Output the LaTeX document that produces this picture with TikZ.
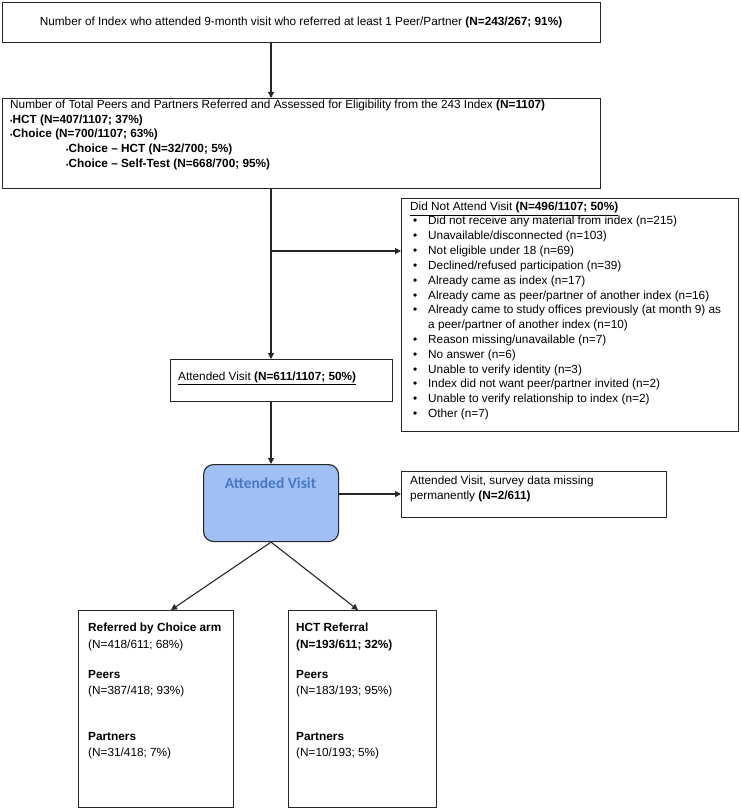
\documentclass[tikz,border=0pt]{standalone}
\usepackage{fontspec}
\setmainfont{Liberation Sans}
\newfontfamily\carl{Carlito}
\usetikzlibrary{arrows.meta}
\definecolor{rvfill}{HTML}{A0C0F4}
\definecolor{rvtext}{HTML}{4A78C2}
\definecolor{edge}{HTML}{262626}
\newcommand{\smb}{{\fontsize{7}{7}\selectfont\textbullet}}
\begin{document}
\begin{tikzpicture}[x=1pt,y=-1pt,
  box/.style={draw=edge, line width=1.1pt, rectangle, inner sep=0pt, anchor=north west},
  txt/.style={anchor=base west, inner sep=0pt, font=\fontsize{11.8}{14}\selectfont},
  arr/.style={draw=edge, line width=1.1pt, -{Triangle[length=6pt,width=6pt]}}]
\useasboundingbox (0,0) rectangle (740,810);
% boxes
\node[box, minimum width=598pt, minimum height=40pt] (top) at (2,2) {};
\node[box, minimum width=598pt, minimum height=90pt] (sec) at (2,98) {};
\node[box, minimum width=337pt, minimum height=233pt] (dna) at (401,198) {};
\node[box, minimum width=222pt, minimum height=42pt] (att) at (170,359) {};
\node[box, fill=rvfill, rounded corners=10pt, minimum width=135pt, minimum height=77pt] (rv) at (203,464) {};
\node[box, minimum width=265pt, minimum height=46pt] (miss) at (401,471) {};
\node[box, minimum width=155pt, minimum height=197pt] (lb) at (78,610) {};
\node[box, minimum width=148pt, minimum height=197pt] (rb) at (288,610) {};
% texts
\node[txt, anchor=base] (t1) at (301,26) {Number of Index who attended 9-month visit who referred at least 1 Peer/Partner \textbf{(N=243/267; 91\%)}};
\node[txt] (s1) at (10,109) {Number of Total Peers and Partners Referred and Assessed for Eligibility from the 243 Index \textbf{(N=1107)}};
\node[txt] (s2) at (10,124) {\smb\textbf{HCT (N=407/1107; 37\%)}};
\node[txt] (s3) at (10,138) {\smb\textbf{Choice (N=700/1107; 63\%)}};
\node[txt] (s4) at (66,153) {\smb\textbf{Choice – HCT (N=32/700; 5\%)}};
\node[txt] (s5) at (66,168) {\smb\textbf{Choice – Self-Test (N=668/700; 95\%)}};
\node[txt] (d0) at (410,211) {\underline{Did Not Attend Visit \textbf{(N=496/1107; 50\%)}}};
\foreach \k/\s/\b in {
  0/{Did not receive any material from index (n=215)}/1,
  1/{Unavailable/disconnected (n=103)}/1,
  2/{Not eligible under 18 (n=69)}/1,
  3/{Declined/refused participation (n=39)}/1,
  4/{Already came as index (n=17)}/1,
  5/{Already came as peer/partner of another index (n=16)}/1,
  6/{Already came to study offices previously (at month 9) as}/1,
  7/{a peer/partner of another index (n=10)}/0,
  8/{Reason missing/unavailable (n=7)}/1,
  9/{No answer (n=6)}/1,
  10/{Unable to verify identity (n=3)}/1,
  11/{Index did not want peer/partner invited (n=2)}/1,
  12/{Unable to verify relationship to index (n=2)}/1,
  13/{Other (n=7)}/1}{
  \node[txt] (di\k) at (428,225+14.8*\k) {\s};
  \ifnum\b=1 \node[txt] (db\k) at (413,225+14.8*\k) {\textbullet}; \fi
}
\node[txt] (a1) at (178,380) {\underline{Attended Visit \textbf{(N=611/1107; 50\%)}}};
\node[inner sep=0pt, text=rvtext, font=\carl\bfseries\fontsize{15.5}{16}\selectfont] (rvt) at (270.5,483) {Attended Visit};
\node[txt] (m1) at (410,484) {Attended Visit, survey data missing};
\node[txt] (m2) at (410,499) {permanently \textbf{(N=2/611)}};
\node[txt] (l1) at (88,631) {\textbf{Referred by Choice arm}};
\node[txt] (l2) at (88,648) {(N=418/611; 68\%)};
\node[txt] (l3) at (88,678) {\textbf{Peers}};
\node[txt] (l4) at (88,694) {(N=387/418; 93\%)};
\node[txt] (l5) at (88,740) {\textbf{Partners}};
\node[txt] (l6) at (88,756) {(N=31/418; 7\%)};
\node[txt] (r1) at (296,631) {\textbf{HCT Referral}};
\node[txt] (r2) at (296,648) {\textbf{(N=193/611; 32\%)}};
\node[txt] (r3) at (296,678) {\textbf{Peers}};
\node[txt] (r4) at (296,694) {(N=183/193; 95\%)};
\node[txt] (r5) at (296,740) {\textbf{Partners}};
\node[txt] (r6) at (296,756) {(N=10/193; 5\%)};
% connectors
\coordinate (vx) at (271,0);
\coordinate (br) at (271,251);
\coordinate (ry) at (0,494);
\coordinate (lt) at (171,0);
\coordinate (rt) at (358,0);
\draw[arr] (top.south -| vx) -- (sec.north -| vx);
\draw[arr] (sec.south -| vx) -- (att.north -| vx);
\draw[arr] (br) -- (dna.west |- br);
\draw[arr] (att.south -| vx) -- (rv.north -| vx);
\draw[arr] (rv.east |- ry) -- (miss.west |- ry);
\draw[arr] (rv.south) -- (lb.north -| lt);
\draw[arr] (rv.south) -- (rb.north -| rt);
\end{tikzpicture}
\end{document}
